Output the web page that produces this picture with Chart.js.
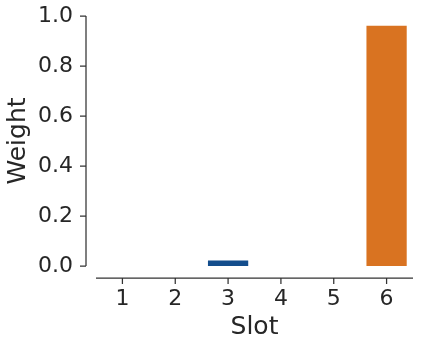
<!DOCTYPE html>
<html>
<head>
<meta charset="utf-8">
<script src="https://cdn.jsdelivr.net/npm/chart.js@4"></script>
<style>
  html, body { margin: 0; padding: 0; background: #fff; }
  #wrap { width: 423px; height: 348px; }
</style>
</head>
<body>
<div id="wrap"><canvas id="chart"></canvas></div>
<script>
const slots = ['1', '2', '3', '4', '5', '6'];
const weights = [0, 0, 0.026, 0, 0, 0.965];
const barColors = ['#134d8c', '#134d8c', '#134d8c', '#d97321', '#d97321', '#d97321'];
const yTicks = [0, 0.2, 0.4, 0.6, 0.8, 1.0];

const INK = '#262626';
const FONT = 'DejaVu Sans';

// seaborn-style despined axes: spines offset from the data area
const spines = {
  id: 'spines',
  afterDraw(chart) {
    const { ctx, chartArea, scales: { x, y } } = chart;
    const yx = chartArea.left - 10;
    const xy = chartArea.bottom + 12;
    ctx.save();
    ctx.strokeStyle = '#333';
    ctx.lineWidth = 1.25;
    ctx.beginPath();
    ctx.moveTo(yx, y.getPixelForValue(yTicks[yTicks.length - 1]));
    ctx.lineTo(yx, y.getPixelForValue(yTicks[0]));
    yTicks.forEach(v => {
      const p = y.getPixelForValue(v);
      ctx.moveTo(yx - 6, p);
      ctx.lineTo(yx, p);
    });
    ctx.moveTo(chartArea.left, xy);
    ctx.lineTo(chartArea.right, xy);
    slots.forEach((s, i) => {
      const p = x.getPixelForValue(i);
      ctx.moveTo(p, xy);
      ctx.lineTo(p, xy + 6);
    });
    ctx.stroke();
    ctx.restore();
  }
};

new Chart(document.getElementById('chart'), {
  type: 'bar',
  data: {
    labels: slots,
    datasets: [{
      data: weights,
      backgroundColor: barColors,
      borderColor: '#ffffff',
      borderWidth: 1,
      barPercentage: 0.8,
      categoryPercentage: 1,
    }],
  },
  options: {
    responsive: true,
    maintainAspectRatio: false,
    animation: false,
    layout: { padding: { top: 0, right: 10, left: 0, bottom: 0 } },
    plugins: { legend: { display: false }, tooltip: { enabled: false } },
    scales: {
      x: {
        offset: true,
        grid: { display: false, drawTicks: false },
        border: { display: false },
        ticks: { color: INK, font: { family: FONT, size: 22 }, padding: 20 },
        title: { display: true, text: 'Slot', color: INK, font: { family: FONT, size: 25 }, padding: { top: 0, bottom: 6 } },
        afterFit: s => { s.height = 82; },
      },
      y: {
        min: 0,
        max: 1,
        grid: { display: false, drawTicks: false },
        border: { display: false },
        ticks: {
          stepSize: 0.2,
          color: INK,
          font: { family: FONT, size: 22 },
          padding: 23,
          callback: v => v.toFixed(1),
        },
        title: { display: true, text: 'Weight', color: INK, font: { family: FONT, size: 25 }, padding: { top: 3, bottom: 0 } },
        afterFit: s => {
          s.width = 96;
          s.paddingTop = 16;
          s.paddingBottom = 0;
        },
      },
    },
  },
  plugins: [spines],
});
</script>
</body>
</html>
